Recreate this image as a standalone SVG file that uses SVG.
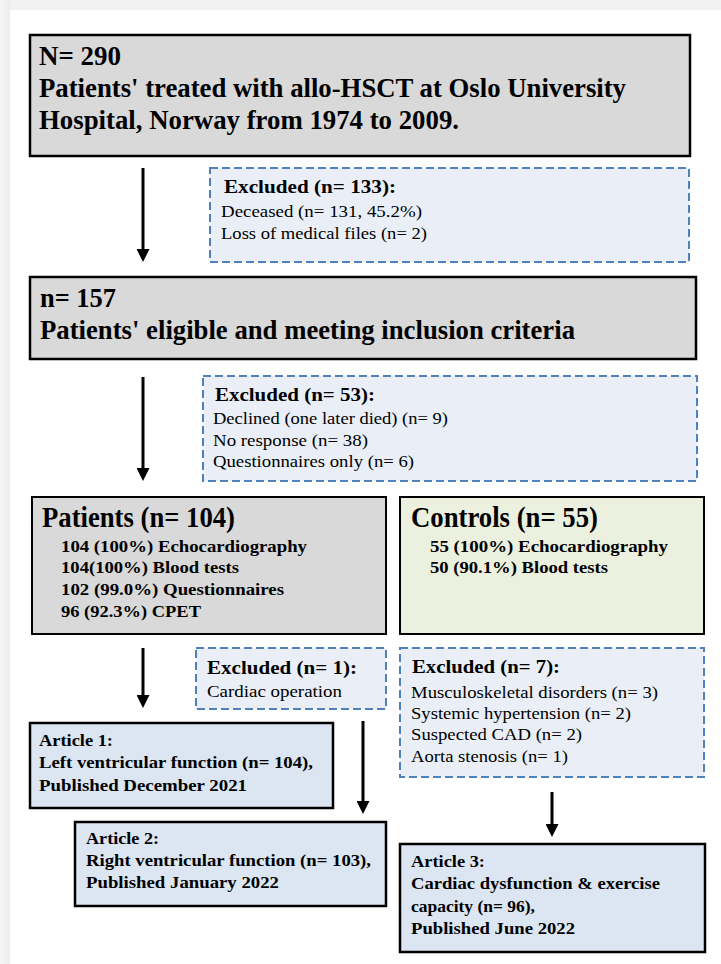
<svg xmlns="http://www.w3.org/2000/svg" width="721" height="964" viewBox="0 0 721 964">
<style>
.t{font-family:"Liberation Serif","Times New Roman",serif;fill:#000}
.b{font-weight:bold}
.big{font-size:27px;font-weight:bold}
.hd{font-size:19px;font-weight:bold}
.rg{font-size:17px}
.sb{font-size:17px;font-weight:bold}
.gray{fill:#d9d9d9;stroke:#000;stroke-width:2.5}
.ctrl{fill:#ebf1de;stroke:#000;stroke-width:2}
.exc{fill:#eaeff7;stroke:#4f81bd;stroke-width:2;stroke-dasharray:8 4}
.art{fill:#dce6f2;stroke:#000;stroke-width:2.5}
.arr{stroke:#000;stroke-width:3;fill:none;marker-end:url(#ah)}
</style>
<defs>
<linearGradient id="lg" x1="0" y1="0" x2="1" y2="0">
<stop offset="0" stop-color="#f7f7f7"/><stop offset="1" stop-color="#ececec"/>
</linearGradient>
<marker id="ah" markerUnits="userSpaceOnUse" markerWidth="13" markerHeight="13" refX="4" refY="6.5" orient="auto">
<path d="M0,0 L13,6.5 L0,13 Z" fill="#000"/>
</marker>
</defs>
<rect x="0" y="0" width="721" height="964" fill="#f2f2f2"/>
<rect x="0" y="0" width="10" height="964" fill="url(#lg)"/>
<rect x="10" y="10" width="711" height="954" fill="#fff"/>

<g id="connectors">
<line class="arr" x1="143" y1="168" x2="143" y2="253"/>
<line class="arr" x1="143" y1="377" x2="143" y2="472"/>
<line class="arr" x1="143" y1="648" x2="143" y2="699"/>
<line class="arr" x1="363" y1="721" x2="363" y2="805"/>
<line class="arr" x1="552" y1="792" x2="552" y2="828"/>
</g>

<g id="n290">
<rect class="gray" x="30" y="35" width="660" height="121"/>
<text class="t big" x="39" y="65" textLength="82" lengthAdjust="spacingAndGlyphs">N= 290</text>
<text class="t big" x="39" y="97" textLength="587" lengthAdjust="spacingAndGlyphs">Patients' treated with allo-HSCT at Oslo University</text>
<text class="t big" x="39" y="129" textLength="420" lengthAdjust="spacingAndGlyphs">Hospital, Norway from 1974 to 2009.</text>
</g>

<g id="excluded133">
<rect class="exc" x="210" y="168" width="479" height="94"/>
<text class="t hd" x="224" y="193" textLength="172" lengthAdjust="spacingAndGlyphs">Excluded (n= 133):</text>
<text class="t rg" x="221" y="217" textLength="201" lengthAdjust="spacingAndGlyphs">Deceased (n= 131, 45.2%)</text>
<text class="t rg" x="221" y="239" textLength="206" lengthAdjust="spacingAndGlyphs">Loss of medical files (n= 2)</text>
</g>

<g id="n157">
<rect class="gray" x="30" y="277" width="666" height="82"/>
<text class="t big" x="40" y="307" textLength="76" lengthAdjust="spacingAndGlyphs">n= 157</text>
<text class="t big" x="40" y="339" textLength="535" lengthAdjust="spacingAndGlyphs">Patients' eligible and meeting inclusion criteria</text>
</g>

<g id="excluded53">
<rect class="exc" x="203" y="376" width="494" height="105"/>
<text class="t hd" x="215" y="401" textLength="160" lengthAdjust="spacingAndGlyphs">Excluded (n= 53):</text>
<text class="t rg" x="213" y="424" textLength="235" lengthAdjust="spacingAndGlyphs">Declined (one later died) (n= 9)</text>
<text class="t rg" x="213" y="446" textLength="155" lengthAdjust="spacingAndGlyphs">No response (n= 38)</text>
<text class="t rg" x="213" y="467" textLength="201" lengthAdjust="spacingAndGlyphs">Questionnaires only (n= 6)</text>
</g>

<g id="patients">
<rect class="gray" x="32" y="497" width="354" height="137" style="stroke-width:2"/>
<text class="t b" x="42" y="527" font-size="29" textLength="193" lengthAdjust="spacingAndGlyphs">Patients (n= 104)</text>
<text class="t sb" x="61" y="552" textLength="246" lengthAdjust="spacingAndGlyphs">104 (100%) Echocardiography</text>
<text class="t sb" x="61" y="573" textLength="178" lengthAdjust="spacingAndGlyphs">104(100%) Blood tests</text>
<text class="t sb" x="61" y="595" textLength="223" lengthAdjust="spacingAndGlyphs">102 (99.0%) Questionnaires</text>
<text class="t sb" x="61" y="617" textLength="140" lengthAdjust="spacingAndGlyphs">96 (92.3%) CPET</text>
</g>

<g id="controls">
<rect class="ctrl" x="400" y="497" width="304" height="137"/>
<text class="t b" x="411" y="527" font-size="29" textLength="187" lengthAdjust="spacingAndGlyphs">Controls (n= 55)</text>
<text class="t sb" x="430" y="552" textLength="238" lengthAdjust="spacingAndGlyphs">55 (100%) Echocardiography</text>
<text class="t sb" x="430" y="573" textLength="178" lengthAdjust="spacingAndGlyphs">50 (90.1%) Blood tests</text>
</g>

<g id="excluded1">
<rect class="exc" x="196" y="648" width="190" height="61"/>
<text class="t hd" x="207" y="674" textLength="150" lengthAdjust="spacingAndGlyphs">Excluded (n= 1):</text>
<text class="t rg" x="207" y="697" textLength="135" lengthAdjust="spacingAndGlyphs">Cardiac operation</text>
</g>

<g id="excluded7">
<rect class="exc" x="400" y="648" width="304" height="129"/>
<text class="t hd" x="412" y="673" textLength="148" lengthAdjust="spacingAndGlyphs">Excluded (n= 7):</text>
<text class="t rg" x="411" y="698" textLength="247" lengthAdjust="spacingAndGlyphs">Musculoskeletal disorders (n= 3)</text>
<text class="t rg" x="411" y="719" textLength="220" lengthAdjust="spacingAndGlyphs">Systemic hypertension (n= 2)</text>
<text class="t rg" x="411" y="740" textLength="171" lengthAdjust="spacingAndGlyphs">Suspected CAD (n= 2)</text>
<text class="t rg" x="411" y="762" textLength="157" lengthAdjust="spacingAndGlyphs">Aorta stenosis (n= 1)</text>
</g>

<g id="article1">
<rect class="art" x="30" y="723" width="303" height="85"/>
<text class="t sb" x="39" y="746" textLength="74" lengthAdjust="spacingAndGlyphs">Article 1:</text>
<text class="t sb" x="39" y="768" textLength="274" lengthAdjust="spacingAndGlyphs">Left ventricular function (n= 104),</text>
<text class="t sb" x="39" y="791" textLength="208" lengthAdjust="spacingAndGlyphs">Published December 2021</text>
</g>

<g id="article2">
<rect class="art" x="75" y="822" width="311" height="84"/>
<text class="t sb" x="86" y="844" textLength="73" lengthAdjust="spacingAndGlyphs">Article 2:</text>
<text class="t sb" x="86" y="866" textLength="285" lengthAdjust="spacingAndGlyphs">Right ventricular function (n= 103),</text>
<text class="t sb" x="86" y="888" textLength="193" lengthAdjust="spacingAndGlyphs">Published January 2022</text>
</g>

<g id="article3">
<rect class="art" x="400" y="844" width="305" height="108"/>
<text class="t sb" x="411" y="867" textLength="74" lengthAdjust="spacingAndGlyphs">Article 3:</text>
<text class="t sb" x="411" y="889" textLength="249" lengthAdjust="spacingAndGlyphs">Cardiac dysfunction &amp; exercise</text>
<text class="t sb" x="411" y="912" textLength="124" lengthAdjust="spacingAndGlyphs">capacity (n= 96),</text>
<text class="t sb" x="411" y="934" textLength="164" lengthAdjust="spacingAndGlyphs">Published June 2022</text>
</g>
</svg>
